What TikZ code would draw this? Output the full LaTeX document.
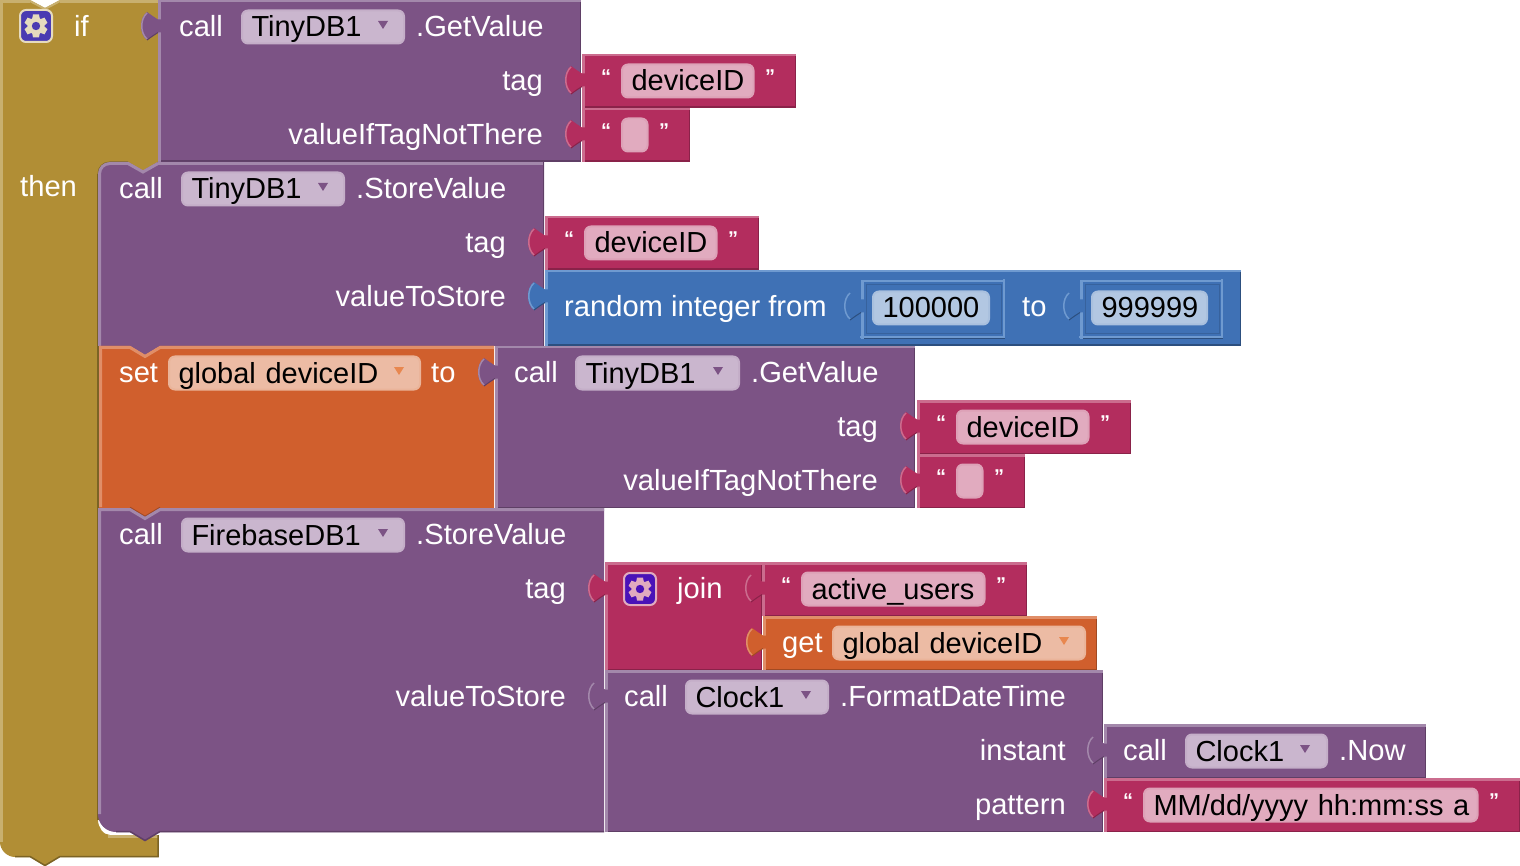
\documentclass[tikz,border=0pt]{standalone}
\usepackage{fontspec}
\setmainfont{Liberation Sans}
\usepackage{tikz}
\usetikzlibrary{calc}

\definecolor{gold}{HTML}{B18E35}
\definecolor{gold-l}{HTML}{C8B06F}
\definecolor{gold-d}{HTML}{7B6325}
\definecolor{plum}{HTML}{7C5385}
\definecolor{plum-l}{HTML}{A388AB}
\definecolor{plum-d}{HTML}{5F3F66}
\definecolor{plum-f}{HTML}{CAB6CE}
\definecolor{rose}{HTML}{B32D5E}
\definecolor{rose-l}{HTML}{CB6C8E}
\definecolor{rose-d}{HTML}{8A2249}
\definecolor{rose-f}{HTML}{E1ABBF}
\definecolor{sky}{HTML}{3F71B5}
\definecolor{sky-l}{HTML}{6F9AD0}
\definecolor{sky-d}{HTML}{2C4F7F}
\definecolor{sky-f}{HTML}{B2C7E2}
\definecolor{rust}{HTML}{D05F2D}
\definecolor{rust-l}{HTML}{E08E68}
\definecolor{rust-d}{HTML}{A14A23}
\definecolor{rust-f}{HTML}{ECBBA4}
\definecolor{rust-t}{HTML}{E8874F}
\definecolor{ifgearbg}{HTML}{4A3BB2}
\definecolor{joingearbg}{HTML}{4A12B8}

\tikzset{
  lbl/.style={text=white,inner sep=0pt,text height=23.5pt,text depth=2.5pt,font=\fontsize{29.15}{32}\selectfont},
  qmark/.style={lbl,anchor=center,font=\bfseries\fontsize{20}{22}\selectfont},
  fieldbox/.style={rounded corners=6pt,line width=2pt,inner sep=0pt,minimum height=33pt,
    text height=23pt,text depth=3pt,align=left,text=black,font=\fontsize{29}{32}\selectfont},
}

% plain block: x1,y1,x2,y2,colour, tab centre
\newcommand{\blk}[6]{
  \fill[#5] (#1,#2) rectangle (#3,#4);
  \draw[#5-d,line width=1.5pt] (#1,#4-.75)--(#3-.75,#4-.75)--(#3-.75,#2);
  \draw[#5-l,line width=2.5pt] (#1+1.25,#4)--(#1+1.25,#2+1.25)--(#3,#2+1.25);
  \fill[#5] (#1+3,#6-6.5)--(#1,#6-6.5) .. controls (#1-4,#6-9) .. (#1-11,#6-14)
    .. controls (#1-19,#6-8) and (#1-19,#6+8) .. (#1-11,#6+14)
    .. controls (#1-4,#6+9) .. (#1,#6+6.5)--(#1+3,#6+6.5)--cycle;
  \draw[#5-l,line width=1.5pt] (#1-11,#6-13) .. controls (#1-18,#6-7) and (#1-18,#6+7) .. (#1-11,#6+13);
  \draw[#5-d,line width=1pt] (#1-11,#6+14) .. controls (#1-4,#6+9) .. (#1,#6+6.5);
}
% dropdown or text field: name,colour,x1,x2,yc,text
\newcommand{\fieldb}[6]{
  \node[fieldbox,fill=#2-f,draw=#2-f!92!#2,minimum width=(#4)-(#3)-2,text width=(#4)-(#3)-21] (#1) at ({(#3+#4)/2},#5) {\mbox{#6}};
}
% arrow of a dropdown
\newcommand{\dropm}[3]{
  \fill[#3] (#1-5,#2-4)--(#1+5,#2-4)--(#1,#2+4)--cycle;
}
% string block: name,x1,y1,x2,text
\newcommand{\strblk}[5]{
  \blk{#2}{#3}{#4}{#3+54}{rose}{#3+26}
  \node[qmark] (#1o) at (#2+24,#3+19) {“};
  \node[qmark] (#1c) at (#4-26,#3+19) {”};
  \fieldb{#1}{rose}{#2+39}{#4-41.5}{#3+27}{#5}
}
% number slot in a block: name,x1,x2,text
\newcommand{\numblk}[4]{
  \blk{#2}{280}{#3}{339}{sky}{306}
  \draw[sky-d!45!sky,line width=1pt] (#2+5,334)--(#3-4,334)--(#3-4,285)--(#2+5,285)--cycle;
  \draw[sky-l,line width=2pt] (#2-1,337)--(#3-1.5,337)--(#3-1.5,279);
  \fieldb{#1}{sky}{#2+11}{#3-15}{308}{#4}
}
% mutator gear: name,x,y,square colour,gear colour
\newcommand{\gearm}[5]{
  \node[draw=#5,fill=#4,line width=2pt,rounded corners=6pt,minimum size=32pt,inner sep=0pt] (#1) at (#2,#3) {};
  \foreach \a in {0,60,...,300} {
    \fill[#5,rotate around={\a:(#2,#3)}] (#2-3,#3-11.5)--(#2+3,#3-11.5)--(#2+4,#3-6)--(#2-4,#3-6)--cycle;
  }
  \fill[#5] (#2,#3) circle (8.5);
  \fill[#4] (#2,#3) circle (4.2);
}

\begin{document}
\begin{tikzpicture}[x=1pt,y=-1pt]
  \useasboundingbox (0,0) rectangle (1520,866);
  % if block
  \fill[gold] (0,0)--(158,0)--(158,162)--(143,170.5)--(128,162)--(110,162)
    .. controls (103,162) and (98,167) .. (98,174)--(98,820)
    .. controls (98,827) and (103,835) .. (110,835)--(158,835)--(158,857)--(60,857)--(45,866)--(30,857)--(15,857)
    .. controls (7,857) and (0,850) .. (0,842)--cycle;
  \draw[gold-l,line width=3pt] (1.5,842)--(1.5,1.5)--(30,1.5);
  \draw[gold-l,line width=3pt] (60,1.5)--(158,1.5);
  \draw[gold-l,line width=3pt] (108,836.5)--(158,836.5);
  \draw[gold-d,line width=1.5pt] (158,835)--(158,856.5)--(60,856.5)--(45,865.5)--(30,856.5)--(15,856.5);
  \draw[gold-d,line width=1.5pt] (98,174)--(98,820);
  \fill[white] (30,0)--(60,0)--(45,8)--cycle;
  \draw[gold-l,line width=2pt] (28,0)--(45,9)--(62,0);
  \gearm{ifgear}{36}{26}{ifgearbg}{gold-l!45!white}
  \node[lbl,anchor=west] (ifl) at (74,26) {if};
  \node[lbl,anchor=west] (thenl) at (20,186) {then};

  % first getvalue
  \blk{158}{0}{581}{162}{plum}{26}
  \node[lbl,anchor=west] (c1) at (179,26) {call};
  \fieldb{f1}{plum}{241}{405}{27}{TinyDB1}
  \dropm{383}{25}{plum}
  \node[lbl,anchor=west] (m1) at (416,26) {.GetValue};
  \node[lbl,anchor=east] (t1) at (543,80) {tag};
  \node[lbl,anchor=east] (v1) at (543,134) {valueIfTagNotThere};
  \strblk{s1}{582}{54}{796}{deviceID}
  \strblk{s2}{582}{108}{690}{}

  % tinydb store
  \fill[plum] (98,174) .. controls (98,167) and (103,162) .. (110,162)--(128,162)--(143,170.5)--(158,162)--(544,162)--(544,346)--(160,346)--(145,355)--(130,346)--(98,346)--cycle;
  \draw[gold-d,line width=1pt] (98,174) .. controls (98,167) and (103,162) .. (110,162)--(128,162);
  \draw[plum-l,line width=3pt] (99.5,346)--(99.5,174) .. controls (99.5,168) and (104,163.5) .. (110,163.5)--(128,163.5)--(143,172)--(158,163.5);
  \draw[plum-l,line width=3pt] (158,163.5)--(544,163.5);
  \draw[plum-d,line width=1.5pt] (543.5,162)--(543.5,346);
  \node[lbl,anchor=west] (c2) at (119,188) {call};
  \fieldb{f2}{plum}{181}{345}{189}{TinyDB1}
  \dropm{323}{187}{plum}
  \node[lbl,anchor=west] (m2) at (356,188) {.StoreValue};
  \node[lbl,anchor=east] (t2) at (506,242) {tag};
  \node[lbl,anchor=east] (v2) at (506,296) {valueToStore};
  \strblk{s3}{545}{216}{759}{deviceID}
  % random integer
  \blk{545}{270}{1241}{346}{sky}{296}
  \node[lbl,anchor=west] (r1) at (564,306) {random integer from};
  \numblk{n1}{861}{1005}{100000}
  \node[lbl,anchor=west] (r2) at (1022,306) {to};
  \numblk{n2}{1080}{1223}{999999}

  % set global
  \fill[rust] (99,346)--(130,346)--(145,355)--(160,346)--(494,346)--(494,508)--(160,508)--(145,517)--(130,508)--(99,508)--cycle;
  \draw[rust-l,line width=3pt] (100.5,507)--(100.5,347.5)--(130,347.5)--(145,356.5)--(160,347.5)--(494,347.5);
  \draw[rust-d,line width=1.5pt] (130,507.5)--(145,516.5)--(160,507.5);
  \node[lbl,anchor=west] (c3) at (119,372) {set};
  \fieldb{f3}{rust}{168}{421}{373}{global deviceID}
  \dropm{399}{371}{rust-t}
  \node[lbl,anchor=west] (r3) at (431,372) {to};
  \blk{495}{346}{915}{508}{plum}{372}
  \node[lbl,anchor=west] (c4) at (514,372) {call};
  \fieldb{f4}{plum}{575}{740}{373}{TinyDB1}
  \dropm{718}{371}{plum}
  \node[lbl,anchor=west] (m4) at (751,372) {.GetValue};
  \node[lbl,anchor=east] (t4) at (878,426) {tag};
  \node[lbl,anchor=east] (v4) at (878,480) {valueIfTagNotThere};
  \strblk{s4}{917}{400}{1131}{deviceID}
  \strblk{s5}{917}{454}{1025}{}

  % firebase store
  \fill[plum] (98,508)--(130,508)--(145,517)--(160,508)--(604,508)--(604,832)--(160,832)--(145,841)--(130,832)--(116,832)
    .. controls (106,832) and (98,824) .. (98,814)--cycle;
  \draw[plum-l,line width=3pt] (99.5,814)--(99.5,509.5)--(130,509.5)--(145,518.5)--(160,509.5)--(604,509.5);
  \draw[plum-d,line width=1.5pt] (116,831.5)--(130,831.5)--(145,840.5)--(160,831.5)--(604,831.5);
  \node[lbl,anchor=west] (c5) at (119,534) {call};
  \fieldb{f5}{plum}{181}{405}{535}{FirebaseDB1}
  \dropm{383}{533}{plum}
  \node[lbl,anchor=west] (m5) at (416,534) {.StoreValue};
  \node[lbl,anchor=east] (t5) at (566,588) {tag};
  \node[lbl,anchor=east] (v5) at (566,696) {valueToStore};
  % join
  \blk{605}{562}{762}{670}{rose}{588}
  \gearm{joingear}{640}{589}{joingearbg}{rose-f}
  \node[lbl,anchor=west] (j1) at (677,588) {join};
  \strblk{s6}{762}{562}{1027}{active\_users}
  \blk{763}{616}{1097}{670}{rust}{642}
  \node[lbl,anchor=west] (g1) at (782,642) {get};
  \fieldb{f6}{rust}{832}{1086}{643}{global deviceID}
  \dropm{1064}{641}{rust-t}
  % format date
  \blk{605}{670}{1103}{832}{plum}{696}
  \node[lbl,anchor=west] (c7) at (624,696) {call};
  \fieldb{f7}{plum}{685}{829}{697}{Clock1}
  \dropm{806}{695}{plum}
  \node[lbl,anchor=west] (m7) at (840,696) {.FormatDateTime};
  \node[lbl,anchor=east] (t7) at (1066,750) {instant};
  \node[lbl,anchor=east] (v7) at (1066,804) {pattern};
  \blk{1104}{724}{1426}{778}{plum}{750}
  \node[lbl,anchor=west] (c8) at (1123,750) {call};
  \fieldb{f8}{plum}{1185}{1328}{751}{Clock1}
  \dropm{1305}{749}{plum}
  \node[lbl,anchor=west] (m8) at (1339,750) {.Now};
  \strblk{s7}{1104}{778}{1520}{MM/dd/yyyy hh:mm:ss a}
\end{tikzpicture}
\end{document}
